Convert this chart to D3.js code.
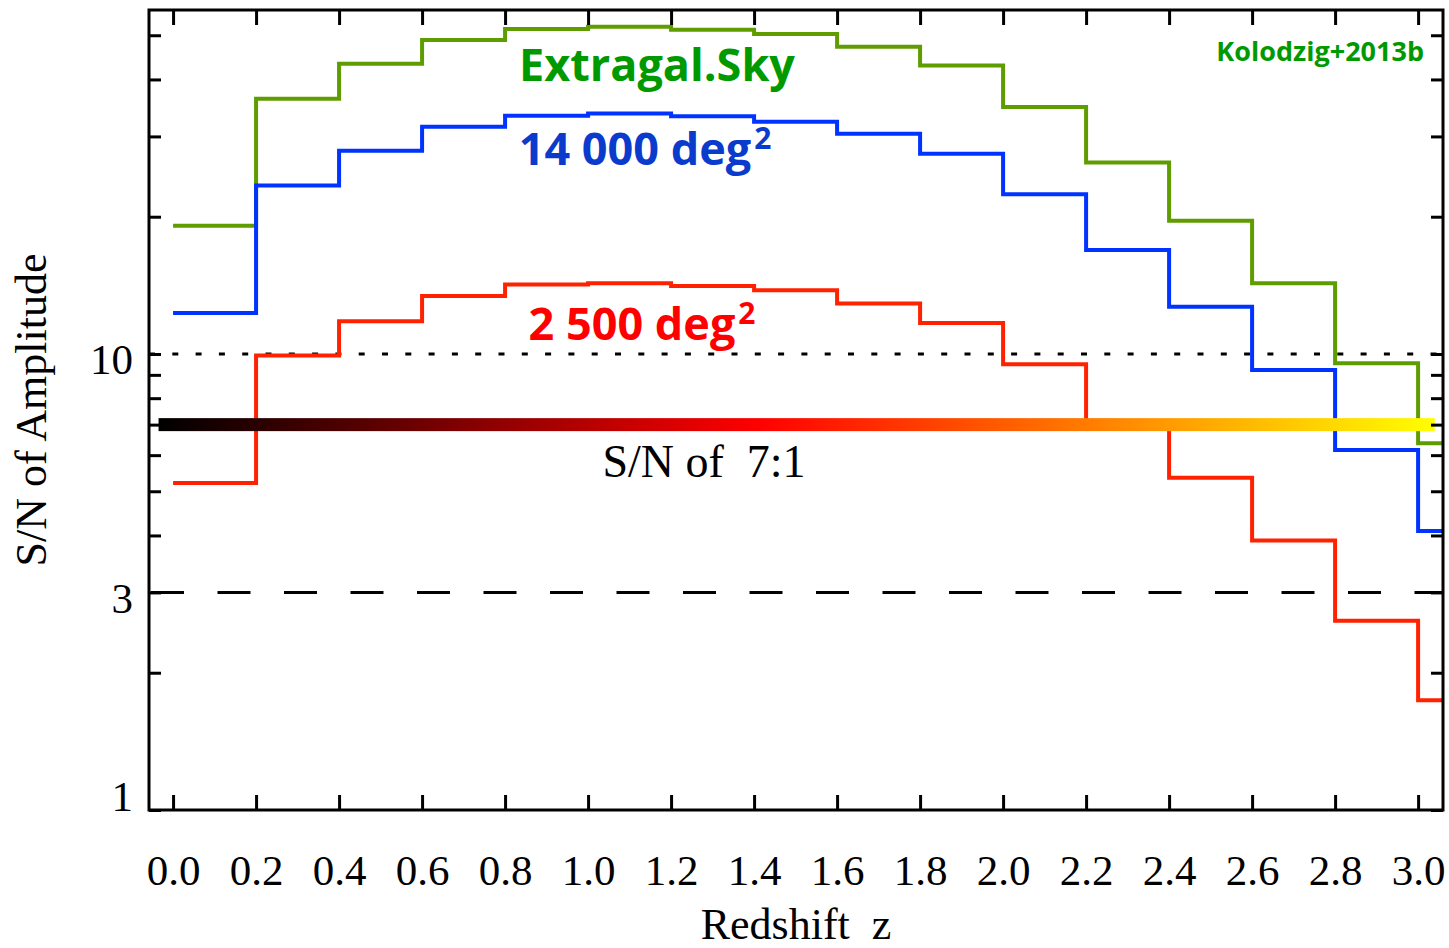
<!DOCTYPE html>
<html>
<head>
<meta charset="utf-8">
<script src="https://cdn.jsdelivr.net/npm/d3@7"></script>
<style>
  html, body { margin: 0; padding: 0; background: #fff; }
  svg text { white-space: pre; }
</style>
</head>
<body>
<div id="chart"></div>
<script>
let width = 1449;
let height = 948;

// bin starts in redshift, each bin is 0.2 wide
const zBins = [0.0, 0.2, 0.4, 0.6, 0.8, 1.0, 1.2, 1.4, 1.6, 1.8, 2.0, 2.2, 2.4, 2.6, 2.8, 3.0];

// S/N of amplitude per bin
const snExtragal = [19.1, 36.3, 43.3, 48.8, 51.6, 52.2, 51.4, 50.3, 47.2, 42.9, 34.8, 26.3, 19.6, 14.3, 9.54, 6.37];
const sn14000   = [12.3, 23.4, 27.9, 31.5, 33.3, 33.7, 33.2, 32.3, 30.4, 27.5, 22.4, 16.9, 12.7, 9.22, 6.16, 4.09];
const sn2500    = [5.21, 9.92, 11.8, 13.4, 14.2, 14.3, 14.1, 13.8, 12.9, 11.7, 9.49, 7.06, 5.35, 3.90, 2.60, 1.74];

const xTicks = [0.0, 0.2, 0.4, 0.6, 0.8, 1.0, 1.2, 1.4, 1.6, 1.8, 2.0, 2.2, 2.4, 2.6, 2.8, 3.0];
const yTicks = [1, 2, 3, 4, 5, 6, 7, 8, 9, 10, 20, 30, 40, 50];
const yLabels = [1, 3, 10];

const refDotted = 10;
const refDashed = 3;
const refBar = 7;
const barRange = [-0.035, 3.04];

const series = [
  { name: "Extragal.Sky", values: snExtragal, color: "#5f9c00" },
  { name: "14 000 deg2", values: sn14000, color: "#0033ff" },
  { name: "2 500 deg2", values: sn2500, color: "#ff2200" }
];

const margin = { left: 149, right: 1443, top: 10, bottom: 810 };

let svg = d3.select("#chart").append("svg")
  .attr("width", width)
  .attr("height", height)
  .style("font-family", "'Liberation Serif', 'Times New Roman', serif");

let x = d3.scaleLinear().domain([-0.058, 3.06]).range([margin.left, margin.right]);
let y = d3.scaleLog().domain([1, 56.8]).range([margin.bottom, margin.top]);

// gradient for the 7:1 bar
let defs = svg.append("defs");
let grad = defs.append("linearGradient").attr("id", "hot")
  .attr("x1", "0%").attr("x2", "100%").attr("y1", "0%").attr("y2", "0%");
grad.append("stop").attr("offset", "0%").attr("stop-color", "#000000");
grad.append("stop").attr("offset", "47%").attr("stop-color", "#ff0000");
grad.append("stop").attr("offset", "100%").attr("stop-color", "#ffff00");

// reference lines
svg.append("line")
  .attr("x1", margin.left).attr("x2", margin.right)
  .attr("y1", y(refDotted)).attr("y2", y(refDotted))
  .attr("stroke", "#000").attr("stroke-width", 3)
  .attr("stroke-dasharray", "6,17.3");

svg.append("line")
  .attr("x1", margin.left + 2).attr("x2", margin.right)
  .attr("y1", y(refDashed)).attr("y2", y(refDashed))
  .attr("stroke", "#000").attr("stroke-width", 3)
  .attr("stroke-dasharray", "33,33.5");

// step lines
let line = d3.line()
  .x(d => x(d[0]))
  .y(d => y(d[1]))
  .curve(d3.curveStepAfter);

for (let s of series) {
  let pts = zBins.map((z, i) => [z, s.values[i]]);
  pts.push([x.domain()[1], s.values[s.values.length - 1]]);
  svg.append("path")
    .datum(pts)
    .attr("d", line)
    .attr("fill", "none")
    .attr("stroke", s.color)
    .attr("stroke-width", 4);
}

// 7:1 bar
svg.append("rect")
  .attr("x", x(barRange[0]))
  .attr("width", x(barRange[1]) - x(barRange[0]))
  .attr("y", y(refBar) - 6.5)
  .attr("height", 13)
  .attr("fill", "url(#hot)");

svg.append("text")
  .attr("x", 704).attr("y", 477)
  .attr("text-anchor", "middle")
  .style("font-size", "46px")
  .text("S/N of  7:1");

// axes
let axBottom = svg.append("g")
  .attr("transform", `translate(0,${margin.bottom})`)
  .call(d3.axisBottom(x).tickValues(xTicks).tickSizeInner(-15).tickSizeOuter(0)
    .tickPadding(44).tickFormat(d3.format(".1f")));

let axTop = svg.append("g")
  .attr("transform", `translate(0,${margin.top})`)
  .call(d3.axisTop(x).tickValues(xTicks).tickSizeInner(-15).tickSizeOuter(0).tickFormat(""));

let axLeft = svg.append("g")
  .attr("transform", `translate(${margin.left},0)`)
  .call(d3.axisLeft(y).tickValues(yTicks).tickSizeInner(-12).tickSizeOuter(0)
    .tickPadding(16).tickFormat(d => yLabels.includes(d) ? d : ""));

let axRight = svg.append("g")
  .attr("transform", `translate(${margin.right},0)`)
  .call(d3.axisRight(y).tickValues(yTicks).tickSizeInner(-12).tickSizeOuter(0).tickFormat(""));

for (let g of [axBottom, axTop, axLeft, axRight]) {
  g.select(".domain").remove();
  g.selectAll(".tick line").attr("stroke", "#000").attr("stroke-width", 3);
  g.selectAll("text")
    .attr("fill", "#000")
    .style("font-family", "'Liberation Serif', 'Times New Roman', serif")
    .style("font-size", "43px");
}
axLeft.selectAll(".tick text").attr("dy", d => d === 1 ? "0em" : "0.46em");

// frame
svg.append("rect")
  .attr("x", margin.left).attr("y", margin.top)
  .attr("width", margin.right - margin.left)
  .attr("height", margin.bottom - margin.top)
  .attr("fill", "none")
  .attr("stroke", "#000")
  .attr("stroke-width", 3);

// axis titles
svg.append("text")
  .attr("transform", "translate(46,410) rotate(-90)")
  .attr("text-anchor", "middle")
  .style("font-size", "44px")
  .text("S/N of Amplitude");

svg.append("text")
  .attr("x", 796).attr("y", 939)
  .attr("text-anchor", "middle")
  .style("font-size", "44px")
  .text("Redshift  z");

// series labels
let bold = "'Open Sans', 'Noto Sans', sans-serif";

svg.append("text")
  .attr("x", 657).attr("y", 81)
  .attr("text-anchor", "middle")
  .style("font-family", bold).style("font-weight", 700).style("font-size", "45px")
  .attr("fill", "#009a00")
  .text("Extragal.Sky");

let t1 = svg.append("text")
  .attr("x", 645).attr("y", 165)
  .attr("text-anchor", "middle")
  .style("font-family", bold).style("font-weight", 700).style("font-size", "45px")
  .attr("fill", "#0b3bcc");
t1.append("tspan").text("14 000 deg");
t1.append("tspan").attr("dx", 3).attr("dy", -16).style("font-size", "30px").text("2");

let t2 = svg.append("text")
  .attr("x", 642).attr("y", 340)
  .attr("text-anchor", "middle")
  .style("font-family", bold).style("font-weight", 700).style("font-size", "45px")
  .attr("fill", "#ff0000");
t2.append("tspan").text("2 500 deg");
t2.append("tspan").attr("dx", 3).attr("dy", -16).style("font-size", "30px").text("2");

svg.append("text")
  .attr("x", 1424).attr("y", 61)
  .attr("text-anchor", "end")
  .style("font-family", bold).style("font-weight", 700).style("font-size", "27px")
  .attr("fill", "#009a00")
  .text("Kolodzig+2013b");
</script>
</body>
</html>
